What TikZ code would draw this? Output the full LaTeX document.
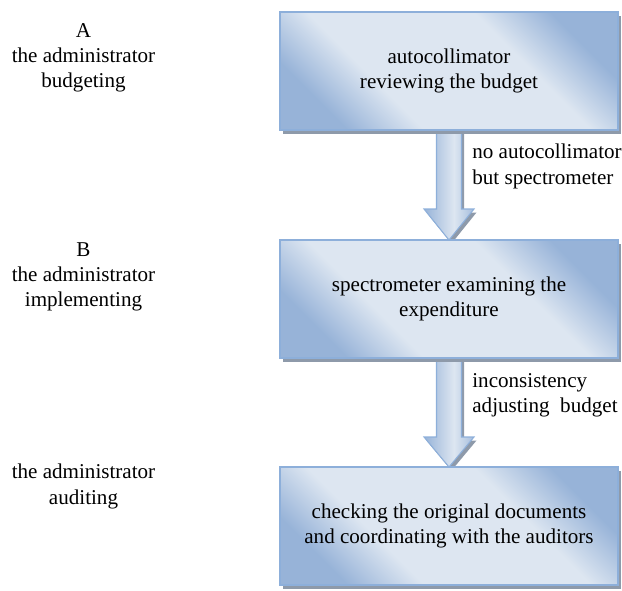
\documentclass[tikz,border=0pt]{standalone}
\usepackage{fontspec}
\setmainfont{Liberation Serif}
\usepackage{tikz}
\usetikzlibrary{calc}
\usetikzlibrary{shadows}
\definecolor{boxLight}{HTML}{DDE6F1}
\definecolor{boxDark}{HTML}{97B3D8}
\definecolor{boxBorder}{HTML}{8DAFDA}
\definecolor{shadowGray}{HTML}{8E9AAA}
\pgfdeclareverticalshading{stageshade}{100bp}{color(0bp)=(boxDark); color(25bp)=(boxDark); color(37bp)=(boxLight); color(63bp)=(boxLight); color(75bp)=(boxDark); color(100bp)=(boxDark)}
\pgfdeclarehorizontalshading{flowshade}{100bp}{color(0bp)=(boxDark); color(25bp)=(boxDark); color(55bp)=(boxLight); color(75bp)=(boxDark!80!boxLight); color(100bp)=(boxDark!80!boxLight)}

\begin{document}
\begin{tikzpicture}[
		stage/.style={draw=boxBorder, line width=0.6pt, minimum width=6.76cm, minimum height=2.36cm, align=center,
			shading=stageshade, shading angle=-45,
			drop shadow={shadow xshift=0.05cm, shadow yshift=-0.07cm, fill=shadowGray, opacity=1},
			font=\fontsize{12}{14.4}\selectfont},
		flow/.style={draw=boxBorder, line width=0.6pt, shading=flowshade,
			drop shadow={shadow xshift=0.05cm, shadow yshift=-0.07cm, fill=shadowGray, opacity=1}},
		role/.style={align=center, font=\fontsize{12}{14.4}\selectfont},
		flowlbl/.style={align=left, anchor=west, inner sep=0pt, font=\fontsize{12}{14.4}\selectfont}
		]
		\useasboundingbox (0,0) rectangle (12.44,-11.8);

		% Roles on the left
		\node[role] (roleA) at (1.67,-1.16) {A\\the administrator\\budgeting};
		\node[role] (roleB) at (1.67,-5.54) {B\\the administrator\\implementing};
		\node[role] (roleC) at (1.67,-9.73) {the administrator\\auditing};

		% Arrows
		\coordinate (s1) at (8.98,-2.6);
		\coordinate (t1) at (8.98,-4.8);
		\coordinate (s2) at (8.98,-7.16);
		\coordinate (t2) at (8.98,-9.34);
		\draw[flow] ($(s1)+(-0.25,0)$) -- ($(t1)+(-0.25,0.62)$) -- ($(t1)+(-0.5,0.62)$) -- (t1)
			-- ($(t1)+(0.5,0.62)$) -- ($(t1)+(0.25,0.62)$) -- ($(s1)+(0.25,0)$) -- cycle;
		\draw[flow] ($(s2)+(-0.25,0)$) -- ($(t2)+(-0.25,0.6)$) -- ($(t2)+(-0.5,0.6)$) -- (t2)
			-- ($(t2)+(0.5,0.6)$) -- ($(t2)+(0.25,0.6)$) -- ($(s2)+(0.25,0)$) -- cycle;
		\node[flowlbl] (lbl1) at (9.44,-3.33) {no autocollimator\\but spectrometer};
		\node[flowlbl] (lbl2) at (9.44,-7.91) {inconsistency\\adjusting~ budget};

		% Stages
		\node[stage] (review) at (8.98,-1.42) {autocollimator\\reviewing the budget};
		\node[stage] (examine) at (8.98,-5.98) {spectrometer examining the\\expenditure};
		\node[stage] (audit) at (8.98,-10.52) {checking the original documents\\and coordinating with the auditors};
	\end{tikzpicture}
\end{document}
